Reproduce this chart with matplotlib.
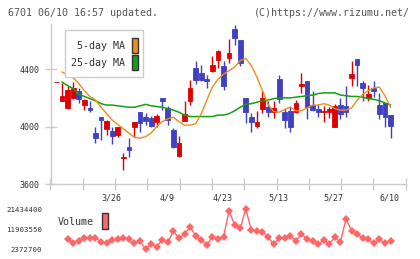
import matplotlib
matplotlib.use("Agg")
import matplotlib.pyplot as plt
from matplotlib.patches import Rectangle
import numpy as np

W, H = 420, 259
nan = np.nan

# daily OHLC (yen), first bar 3/12 ... last bar 6/10
opens = [4310, 4180, 4130, 4200, 4250, 4150, 4130, 3955, 4065, 3980,
         3970, 3940, 3780, 3860, 3995, 4100, 4065, 4060, 4035, 4200,
         4130, 3975, 3795, 4040, 4180, 4405, 4375, 4330, 4385, 4465,
         4420, 4475, 4680, 4605, 4200, 4065, 4005, 4120, 4135, 4105,
         4330, 4105, 4110, 4105, 4280, 4315, 4150, 4125, 4100, 4105,
         4000, 4150, 4145, 4340, 4470, 4305, 4200, 4270, 4150, 4165, 4080]
highs = [4310, 4305, 4285, 4310, 4270, 4195, 4175, 3995, 4070, 4045,
         4000, 4000, 3815, 3920, 4030, 4105, 4095, 4075, 4085, 4200,
         4145, 3990, 3935, 4175, 4325, 4455, 4430, 4360, 4495, 4535,
         4455, 4610, 4710, 4605, 4200, 4095, 4110, 4250, 4175, 4175,
         4360, 4120, 4145, 4185, 4375, 4315, 4250, 4160, 4145, 4135,
         4160, 4200, 4280, 4460, 4470, 4320, 4290, 4320, 4235, 4165, 4080]
lows = [4310, 4175, 4125, 4195, 4165, 4115, 4100, 3885, 3905, 3940,
        3880, 3930, 3700, 3790, 3930, 3960, 4010, 3995, 4000, 4115,
        4010, 3850, 3790, 4040, 4150, 4300, 4320, 4270, 4380, 4405,
        4255, 4445, 4570, 4420, 4025, 3960, 3990, 4095, 4065, 4060,
        4165, 3990, 3960, 4095, 4235, 4050, 4110, 4065, 4035, 4060,
        4000, 4055, 4070, 4280, 4280, 4180, 4175, 4205, 4055, 4000, 3920]
closes = [4310, 4210, 4255, 4270, 4190, 4185, 4115, 3920, 4045, 4040,
          3935, 3995, 3790, 3840, 4030, 4025, 4040, 4005, 4075, 4180,
          4045, 3855, 3885, 4085, 4270, 4325, 4325, 4320, 4430, 4525,
          4285, 4515, 4620, 4440, 4100, 4030, 4030, 4200, 4100, 4130,
          4190, 4045, 4000, 4165, 4300, 4140, 4115, 4105, 4110, 4120,
          4145, 4085, 4100, 4365, 4430, 4270, 4230, 4250, 4090, 4065, 4005]

ma5 = [nan, 4380, 4360, 4340, 4300, 4250, 4210, 4185, 4135, 4090, 4045,
       4015, 3985, 3955, 3925, 3920, 3930, 3955, 4000, 4035, 4055,
       4065, 4035, 4010, 4010, 4020, 4090, 4185, 4275, 4330, 4365,
       4390, 4415, 4460, 4475, 4425, 4345, 4250, 4155, 4105, 4100,
       4120, 4135, 4110, 4110, 4130, 4150, 4150, 4160, 4150, 4125,
       4115, 4115, 4130, 4185, 4225, 4250, 4270, 4275, 4215, 4135]
ma25 = [nan, 4310, 4285, 4265, 4225, 4210, 4195, 4180, 4160, 4150, 4150,
        4145, 4140, 4135, 4135, 4145, 4155, 4145, 4140, 4135, 4125,
        4115, 4100, 4080, 4070, 4070, 4070, 4070, 4070, 4080, 4080,
        4090, 4110, 4135, 4155, 4160, 4170, 4180, 4185, 4195, 4200,
        4200, 4200, 4205, 4210, 4215, 4220, 4230, 4235, 4235, 4235,
        4220, 4215, 4210, 4210, 4205, 4195, 4190, 4180, 4165, 4150]

volume = [nan, nan, 6990000, 5370000, 6330000, 7760000, 7760000, 7760000,
          5850000, 5090000, 6660000, 7140000, 7470000, 6990000, 5090000,
          6040000, 2372700, 4610000, 3470000, 6660000, 5570000, 10950000,
          7470000, 9520000, 12860000, 8710000, 6660000, 4280000, 8230000,
          6990000, 8230000, 20620000, 13810000, 12240000, 21434400,
          11430000, 11090000, 10620000, 8230000, 4610000, 7470000,
          7470000, 8570000, 6180000, 9520000, 7140000, 6180000, 4610000,
          6660000, 4760000, 7950000, 5570000, 16670000, 11090000,
          9520000, 7760000, 6990000, 5090000, 6990000, 5090000, 6180000]

date_pos = [10, 20, 30, 40, 50, 60]
date_labels = ["3/26", "4/9", "4/23", "5/13", "5/27", "6/10"]
price_ticks = [3600, 4000, 4400]
vol_ticks = [2372700, 11903550, 21434400]

UP = "#dd0000"
DOWN = "#4040c0"
ORANGE = "#f08c1e"
GREEN = "#14a014"
VOLC = "#ff6666"
GRID = "#cccccc"
TXT = "#333333"

plt.rcParams['font.family'] = ['DejaVu Sans Mono']


def fx(px):
    return px / W


def fy(py):
    return 1 - py / H


x = np.arange(len(closes))
o = np.array(opens)
c = np.array(closes)
x_left, x_right = -1.08, 62.73

fig = plt.figure(figsize=(W / 100, H / 100), dpi=100)
fig.patch.set_facecolor("white")

# --- price panel ---
ax = fig.add_axes([fx(50.5), fy(184), fx(405.7) - fx(50.5), fy(24) - fy(184)])
ax.set_xlim(x_left, x_right)
ax.set_ylim(3600, 4715)

colors = [UP if cc >= oo else DOWN for oo, cc in zip(o, c)]
ax.vlines(x, lows, highs, colors=colors, lw=1, zorder=2)
ax.bar(x, np.abs(c - o), bottom=np.minimum(o, c), width=0.85,
       color=colors, edgecolor=colors, linewidth=0.6, zorder=3)
ax.plot(x, ma25, color=GREEN, lw=1.1, zorder=4)
ax.plot(x, ma5, color=ORANGE, lw=1.0, zorder=4)

for s in ["top", "right"]:
    ax.spines[s].set_visible(False)
for s in ["left", "bottom"]:
    ax.spines[s].set_color(GRID)
    ax.spines[s].set_linewidth(1)

ax.set_xticks(np.linspace(x_left, x_right, 12))
ax.set_xticklabels([])
ax.tick_params(axis="x", direction="inout", length=9, color=GRID, width=1)
ax.set_yticks(price_ticks)
ax.set_yticklabels([str(t) for t in price_ticks])
ax.tick_params(axis="y", direction="inout", length=8, color=GRID, width=1,
               labelsize=6, labelcolor=TXT, pad=4)

for p, lab in zip(date_pos, date_labels):
    ax.text(p - 0.2, -0.0875, lab, transform=ax.get_xaxis_transform(),
            ha="center", va="center", fontsize=6, color=TXT)

# MA legend box
fig.add_artist(Rectangle((fx(65), fy(77)), fx(143) - fx(65), (77 - 30) / H,
                         transform=fig.transFigure, facecolor="white",
                         edgecolor=GRID, lw=1, zorder=10))
fig.text(fx(125), fy(46), "5-day MA", ha="right", va="center",
         fontsize=7.2, color=TXT, zorder=11)
fig.text(fx(125), fy(62.5), "25-day MA", ha="right", va="center",
         fontsize=7.2, color=TXT, zorder=11)
for top, col in [(38, ORANGE), (54.5, GREEN)]:
    fig.add_artist(Rectangle((fx(131.5), fy(top + 15)), fx(6.5), 15 / H,
                             transform=fig.transFigure, facecolor=col,
                             edgecolor="#333333", lw=1, zorder=11))

# header
fig.text(fx(8), fy(12.5), "6701 06/10 16:57 updated.", ha="left",
         va="center", fontsize=7.2, color="#555555")
fig.text(fx(410), fy(12.5), "(C)https://www.rizumu.net/", ha="right",
         va="center", fontsize=7.2, color="#555555")

# --- volume panel ---
axv = fig.add_axes([fx(50.5), fy(249), fx(405.7) - fx(50.5), 40 / H])
axv.set_xlim(x_left, x_right)
axv.set_ylim(vol_ticks[0], vol_ticks[-1])
axv.plot(x, volume, color=VOLC, lw=1, marker="D", markersize=4,
         markeredgewidth=0, clip_on=False)
for s in axv.spines.values():
    s.set_visible(False)
axv.set_xticks([])
axv.set_yticks(vol_ticks)
axv.set_yticklabels([str(v) for v in vol_ticks])
axv.tick_params(axis="y", length=0, labelsize=5.3, labelcolor=TXT, pad=6)
axv.patch.set_alpha(0)

fig.text(fx(58), fy(222), "Volume", ha="left", va="center",
         fontsize=7.2, color=TXT)
fig.add_artist(Rectangle((fx(101.5), fy(229)), fx(6.5), 16 / H,
                         transform=fig.transFigure, facecolor=VOLC,
                         edgecolor="#333333", lw=1))

fig.savefig("out.png", dpi=100)
